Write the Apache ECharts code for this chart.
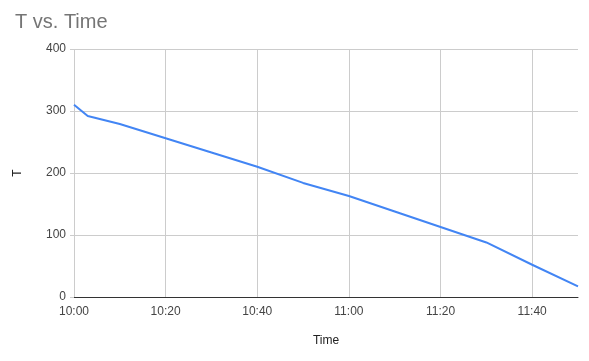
<!DOCTYPE html>
<html><head><meta charset="utf-8">
<script src="https://cdn.jsdelivr.net/npm/echarts@6/dist/echarts.min.js"></script>
<style>html,body{margin:0;padding:0;background:#fff}#c{width:589px;height:361px}</style>
</head><body><div id="c"></div>
<script>
var times = ['10:00','10:03','10:10','10:20','10:30','10:40','10:50','11:00','11:10','11:20','11:30','11:40','11:50'];
var tValues = [310, 292, 279, 256, 233, 210, 184, 163, 138, 113, 88, 52, 17];
var yTicks = [0, 100, 200, 300, 400];
var xTickLabels = ['10:00','10:20','10:40','11:00','11:20','11:40'];

function toMin(s){var p=s.split(':');return (+p[0])*60+(+p[1]) - 600;}
function fmt(m){var t=600+m;var h=Math.floor(t/60),mm=t%60;return h+':'+(mm<10?'0':'')+mm;}
var data = times.map(function(t,i){return [toMin(t), tValues[i]];});
var font = 'Arial, "Liberation Sans", sans-serif';
var chart = echarts.init(document.getElementById('c'), null, {renderer:'canvas'});
chart.setOption({
  animation:false,
  backgroundColor:'#fff',
  title:{text:'T vs. Time',left:10,top:7,textStyle:{fontFamily:font,fontSize:20,fontWeight:'normal',color:'#757575'}},
  grid:{left:74,right:11,top:49,bottom:64},
  xAxis:{type:'value',min:0,max:110,interval:20,
    name:'Time',nameLocation:'middle',nameGap:38,
    nameTextStyle:{fontFamily:font,fontSize:12,color:'#222'},
    axisLine:{show:true,lineStyle:{color:'#333',width:1}},
    axisTick:{show:false},
    axisLabel:{fontFamily:font,fontSize:12,color:'#444',margin:9,showMaxLabel:false,
      formatter:function(v){var s=fmt(v);return xTickLabels.indexOf(s)>=0?s:'';}},
    splitLine:{show:true,showMaxLine:false,lineStyle:{color:'#ccc',width:1}}
  },
  yAxis:{type:'value',min:yTicks[0],max:yTicks[yTicks.length-1],interval:100,
    name:'T',nameLocation:'middle',nameGap:50,nameRotate:90,
    nameTextStyle:{fontFamily:font,fontSize:12,color:'#222'},
    axisLine:{show:false},
    axisTick:{show:true,length:4,lineStyle:{color:'#ccc'}},
    axisLabel:{fontFamily:font,fontSize:12,color:'#444',margin:8},
    splitLine:{show:true,lineStyle:{color:'#ccc',width:1}}
  },
  series:[{type:'line',data:data,showSymbol:false,symbol:'none',
    lineStyle:{color:'#4285F4',width:2},itemStyle:{color:'#4285F4'}}]
});
</script></body></html>
